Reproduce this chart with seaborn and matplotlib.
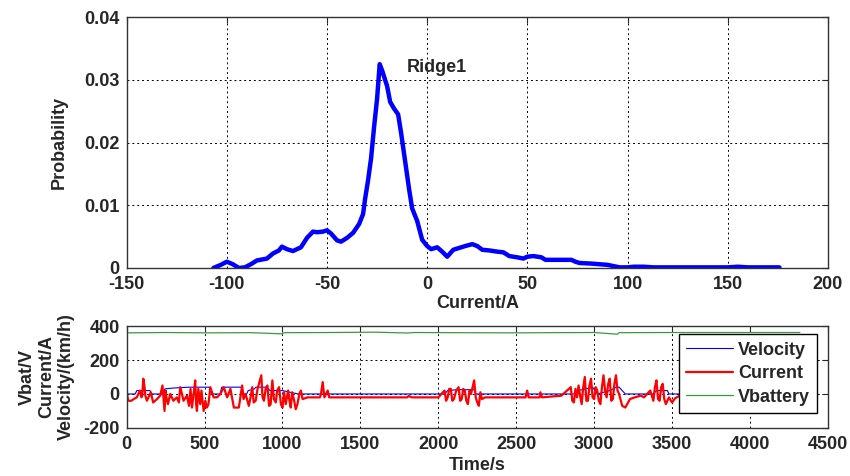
import matplotlib
matplotlib.use("Agg")
import matplotlib.pyplot as plt
import seaborn as sns
import pandas as pd

# ---------------- data ----------------
# Top: probability distribution of current
ridge_current = [-106.7, -103, -100, -97, -94, -91, -88, -85, -80, -77,
                 -74, -72.5, -70, -67, -63, -60, -57, -55, -52, -50,
                 -48, -45, -43, -40, -37, -34, -32, -31, -29.5, -28,
                 -26.5, -25, -23.7, -22.5, -21.5, -20, -18.5, -16.7, -14.5, -13,
                 -11, -9, -7.5, -5, -2.5, 0, 2, 5, 7.5, 10,
                 13, 16, 19, 22.5, 25, 27.5, 31, 35, 38, 41,
                 45, 48, 50, 53, 57, 59, 65, 72, 74, 76,
                 82, 86, 90, 93, 96, 100, 103, 108, 113, 120,
                 140, 150, 155, 160, 175.8]
ridge_prob = [0.0, 0.0005, 0.0010, 0.0006, 0.0, 0.0001, 0.0006, 0.0012, 0.0015, 0.0023,
              0.0028, 0.0034, 0.0030, 0.0027, 0.0033, 0.0048, 0.0058, 0.0057, 0.0058, 0.0060,
              0.0055, 0.0044, 0.0042, 0.0048, 0.0056, 0.0070, 0.0086, 0.0110, 0.0140, 0.0175,
              0.0225, 0.0270, 0.0325, 0.0315, 0.0305, 0.0290, 0.0265, 0.0255, 0.0245, 0.0215,
              0.0170, 0.0125, 0.0095, 0.0075, 0.0045, 0.0035, 0.0030, 0.0033, 0.0026, 0.0018,
              0.0029, 0.0032, 0.0035, 0.0038, 0.0035, 0.0029, 0.0028, 0.0026, 0.0025, 0.0019,
              0.0017, 0.0015, 0.0018, 0.0019, 0.0017, 0.0013, 0.0013, 0.0013, 0.0010, 0.0008,
              0.0007, 0.0006, 0.0005, 0.0003, 0.0001, 0.0001, 0.0002, 0.0002, 0.0001, 0.0001,
              0.0001, 0.0001, 0.0002, 0.0001, 0.0001]

top_xticks = [-150, -100, -50, 0, 50, 100, 150, 200]
top_yticks = [0, 0.01, 0.02, 0.03, 0.04]
top_yticklabels = ["0", "0.01", "0.02", "0.03", "0.04"]

# Bottom: time series
current_t = [0, 10, 30, 45, 65, 85, 95, 100, 107, 115, 120,
             130, 140, 155, 170, 195, 215, 230, 237, 243, 250, 255, 265, 280, 300,
             322, 335, 344, 355, 365, 387, 400, 410, 419, 430, 440, 446, 451, 460, 472, 480, 494,
             505, 515, 525, 537, 558, 580, 601, 623, 645, 666, 688, 720,
             741, 750, 763, 784, 795, 806, 815, 828, 840, 849, 864, 872, 881, 892, 903, 914, 924,
             935, 945, 957, 966, 978, 990, 1000, 1010, 1021, 1036, 1045, 1053, 1062, 1075, 1085, 1096, 1108, 1118,
             1129, 1161, 1240, 1247, 1258, 1269, 1290, 1300, 1311, 1800,
             1810, 1830, 1850, 2000, 2040, 2050, 2060, 2070, 2080, 2090, 2100, 2115, 2130, 2140, 2150,
             2160, 2170, 2180, 2190, 2200, 2210, 2230, 2240, 2250, 2260, 2270, 2280, 2300, 2560, 2570,
             2580, 2650, 2655, 2665, 2790, 2850, 2860, 2870, 2880, 2890, 2900, 2910, 2920, 2930, 2940,
             2950, 2960, 2970, 2980, 2990, 3000, 3010, 3020, 3030, 3040, 3050, 3060, 3070, 3080, 3090, 3100, 3110, 3120, 3130, 3140,
             3150, 3160, 3180, 3200, 3230, 3260, 3300, 3320, 3360, 3380, 3390, 3400,
             3410, 3420, 3430, 3440, 3450, 3460, 3480, 3500, 3520, 3550, 3600, 4320]
current_a = [10, -40, -40, -30, -20, 20, -20, -10, 90, 40, -10,
             -40, -20, 10, -50, -30, -10, 50, -30, -100, 20, -20, -60, 0, -40,
             -20, -50, 40, 0, -40, -10, -70, 30, -80, 0, 80, -60, -100, 30, -60, 20, -100,
             -40, -80, -60, 40, -20, -20, 0, 40, -20, 30, -80, -80,
             50, -30, 0, -70, -20, 40, -50, -40, 30, 60, 110, -20, -40, 30, 50, -70, -60,
             80, -30, -50, 20, 40, -60, -80, 10, -60, 20, -40, -80, 10, -40, -90, -60, 0, 20,
             -30, -20, -20, 0, 70, -20, 20, -20, -20, -20,
             -12, -20, -20, -20, 20, -40, -20, 30, 30, -40, -30, 20, 40, -40, -30,
             30, 20, -40, -60, 20, 0, 80, -20, -50, -70, 10, -30, -20, -20, 20,
             -20, -20, 10, -20, -10, 40, -40, -50, 30, -20, 50, -10, -60, 40, 100,
             -40, -40, 50, 90, -20, -30, 40, 20, -40, -60, 40, 110, 20, -20, 60, 90, -40, -30, 60, 110,
             20, 0, -70, -80, -30, -20, -10, -20, 20, -40, 40, 80,
             -30, -40, 40, 60, -30, -60, -20, -50, -25, -10, -15, -15]

velocity_t = [0, 55, 65, 150, 160, 235, 245, 300, 400, 530,
              545, 600, 610, 740, 750, 770, 780, 820, 830, 900,
              920, 1000, 1050, 1100, 2040, 2060, 2120, 2230, 2240, 2880,
              2900, 2990, 3020, 3100, 3140, 3160, 3200, 3380, 3400, 3470,
              3480, 4320]
velocity_kmh = [0, 0, 20, 20, 0, 0, 30, 35, 40, 40,
                0, 0, 40, 40, 0, 0, 20, 30, 40, 40,
                20, 20, 10, 0, 0, 20, 25, 25, 0, 0,
                20, 40, 0, 20, 40, 40, 0, 0, 20, 20,
                0, 0]

vbat_t = [0, 250, 500, 800, 1000, 1010, 1300, 1600, 1800, 1850,
          2100, 2500, 2700, 3000, 3150, 3160, 3500, 4320]
vbat_v = [360, 362, 360, 361, 354, 361, 362, 364, 359, 362,
          361, 360, 361, 362, 352, 361, 362, 362]

bot_xticks = [0, 500, 1000, 1500, 2000, 2500, 3000, 3500, 4000, 4500]
bot_yticks = [-200, 0, 200, 400]

# ---------------- style ----------------
sns.set_style("white")
plt.rcParams["font.family"] = ["Liberation Sans", "DejaVu Sans"]
plt.rcParams["font.weight"] = "bold"
plt.rcParams["axes.labelweight"] = "bold"
plt.rcParams["axes.unicode_minus"] = False

FS = 13
fig = plt.figure(figsize=(8.5, 4.76), dpi=100)
ax1 = fig.add_axes([0.149, 0.437, 0.825, 0.527])
ax2 = fig.add_axes([0.149, 0.101, 0.825, 0.214])

# ---------------- top ----------------
df_top = pd.DataFrame({"Current": ridge_current, "Probability": ridge_prob})
sns.lineplot(data=df_top, x="Current", y="Probability", ax=ax1,
             color="#0000ff", linewidth=3.2, estimator=None, sort=False)
ax1.set_xlim(-150, 200)
ax1.set_ylim(0, 0.04)
ax1.set_xticks(top_xticks)
ax1.set_yticks(top_yticks)
ax1.set_yticklabels(top_yticklabels)
ax1.set_xlabel("Current/A", fontsize=FS, fontweight="bold", labelpad=1)
ax1.set_ylabel("Probability", fontsize=FS, fontweight="bold", labelpad=12)
ax1.text(-10, 0.032, "Ridge1", fontsize=FS, fontweight="bold",
         ha="left", va="center")

# ---------------- bottom ----------------
df_cur = pd.DataFrame({"t": current_t, "v": current_a})
df_vel = pd.DataFrame({"t": velocity_t, "v": velocity_kmh})
df_bat = pd.DataFrame({"t": vbat_t, "v": vbat_v})
sns.lineplot(data=df_vel, x="t", y="v", ax=ax2, color="#0000ff",
             linewidth=0.8, estimator=None, sort=False, label="Velocity")
sns.lineplot(data=df_cur, x="t", y="v", ax=ax2, color="#ff0000",
             linewidth=1.6, estimator=None, sort=False, label="Current")
sns.lineplot(data=df_bat, x="t", y="v", ax=ax2, color="#3a9a3a",
             linewidth=0.9, estimator=None, sort=False, label="Vbattery")
ax2.set_xlim(0, 4500)
ax2.set_ylim(-200, 400)
ax2.set_xticks(bot_xticks)
ax2.set_yticks(bot_yticks)
ax2.set_xlabel("Time/s", fontsize=FS, fontweight="bold", labelpad=3)
ax2.set_ylabel("Vbat/V\nCurrent/A\nVelocity/(km/h)", fontsize=FS,
               fontweight="bold", labelpad=6, linespacing=1.2)
leg = ax2.legend(loc="upper left", bbox_to_anchor=(0.787, 0.919),
                 borderaxespad=0, fontsize=FS, frameon=True, fancybox=False,
                 framealpha=1, edgecolor="black", handlelength=2.6,
                 handletextpad=0.3, labelspacing=0.36, borderpad=0.4)
for txt in leg.get_texts():
    txt.set_fontweight("bold")
leg.get_frame().set_linewidth(1.0)

for ax in (ax1, ax2):
    ax.grid(True, color="black", linestyle=(0, (2, 3)), linewidth=0.7)
    ax.tick_params(direction="in", length=4, width=0.8, labelsize=FS,
                   top=True, right=True)
    ax.tick_params(axis="x", pad=6)
    ax.tick_params(axis="y", pad=5)
    for lbl in ax.get_xticklabels() + ax.get_yticklabels():
        lbl.set_fontweight("bold")
    for s in ax.spines.values():
        s.set_visible(True)
        s.set_color("#333333")
        s.set_linewidth(1.0)

fig.savefig("out.png", dpi=100, facecolor="white")
